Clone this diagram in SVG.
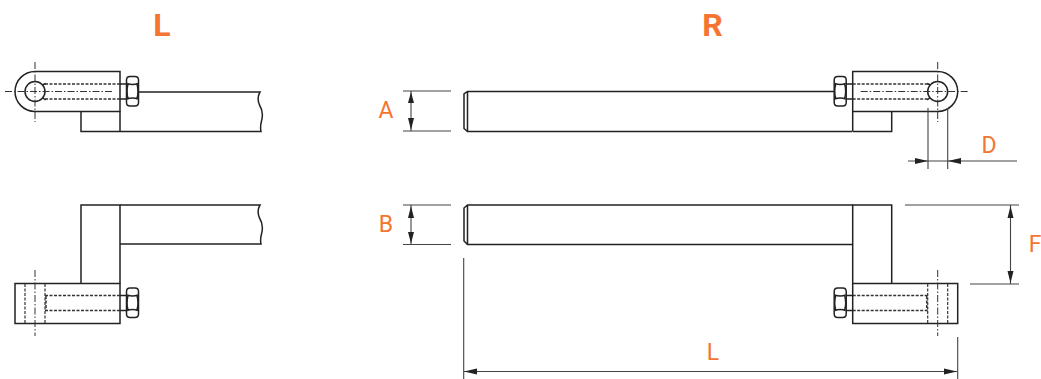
<svg xmlns="http://www.w3.org/2000/svg" width="1041" height="379" viewBox="0 0 1041 379">
<style>
.o{fill:none;stroke:#222;stroke-width:1.5}
.n{fill:#fff;stroke:#222;stroke-width:1.5}
.d{fill:none;stroke:#333;stroke-width:1.5;stroke-dasharray:3 1.5}
.e{fill:none;stroke:#333;stroke-width:1.2;stroke-dasharray:3 1.5}
.c{fill:none;stroke:#333;stroke-width:1;stroke-dasharray:7 2 1.5 2}
.v{fill:none;stroke:#444;stroke-width:1.1}
.a{fill:#222;stroke:none}
text{fill:#f47430;font-family:"Roboto","Liberation Sans",sans-serif}
.t{font-size:32px;font-weight:700;text-anchor:middle}
.l{font-size:23px;font-weight:400;text-anchor:middle}
</style>
<defs>
<g id="nut"><path class="n" d="M130 76.500H135Q138.500 76.500 138.500 80V102.500Q138.500 106 135 106H130Q126.500 106 126.500 102.500V80Q126.500 76.500 130 76.500Z"/><path class="o" d="M127 83.500Q132.500 85.500 138 83.500M127 99Q132.500 97 138 99M128 84Q126 91.500 128 98.500M137 84Q139 91.500 137 98.500"/></g>
<g id="eye">
<path class="o" d="M35 71.500H120V111.500H35A20 20 0 0 1 35 71.500Z"/>
<circle class="o" cx="35" cy="91.500" r="10"/>
<path class="d" d="M45 84H120M45 99H120"/>
<path class="o" d="M120 84H127M120 99H127"/>
<path class="o" d="M42.500 85L45.500 83.500M43 98L45.500 100" />
<path class="c" d="M5 91.500H112M35 62V122"/>
<use href="#nut"/>
<path class="o" d="M81 111.500V131.500H120M120 111.500V131.500"/>
</g>
<g id="block">
<rect class="o" x="15" y="283.500" width="105" height="40"/>
<path class="o" d="M81 283.500V205H120V283.500"/>
<path class="e" d="M25 284V323M45 284V323"/>
<path class="d" d="M45 295.500H120M45 310.500H120M46 296V310"/>
<path class="o" d="M120 295.500H127M120 310.500H127"/>
<path class="c" d="M35 270V336"/>
<use href="#nut" y="211.500"/>
</g>
</defs>

<text class="t" x="162" y="36">L</text>
<text class="t" x="712.500" y="36">R</text>

<g id="left-top">
<path class="o" d="M138 92H260Q256.500 98 259.500 105Q264 112 261.500 121Q260 127 261 131.500H120"/>
<use href="#eye"/>
</g>

<g id="left-bottom">
<path class="o" d="M120 205H260Q256.500 211 259.500 218Q264 225 261.500 234Q260 240 261 244H120"/>
<use href="#block"/>
</g>

<g id="right-top">
<path class="o" d="M834 91.500H467.500L464 94V128.500L467.500 131.500H852M467.500 91.500V131.500"/>
<use href="#eye" transform="matrix(-1 0 0 1 972.700 0)"/>
</g>

<g id="right-bottom">
<path class="o" d="M852.700 205H467.500L464 208V241L467.500 244.500H852.700M467.500 205V244.500"/>
<use href="#block" transform="matrix(-1 0 0 1 972.700 0)"/>
</g>

<g id="connectors">
<path class="v" d="M403 91H451M403 131H451M411 91V131"/>
<path class="a" d="M411 92L414 103H408ZM411 130L414 118H408Z"/>
<path class="v" d="M403 205H451M403 244.500H451M411 205V244.500"/>
<path class="a" d="M411 206L414 218H408ZM411 243.500L414 232H408Z"/>
<path class="v" d="M928 108V169M947.700 108V169M908 161H1017"/>
<path class="a" d="M928 161L915 158V164ZM947.700 161L961 158V164Z"/>
<path class="v" d="M905 205H1019M970 284H1019M1010.500 205V284"/>
<path class="a" d="M1010.500 206L1013.500 218H1007.500ZM1010.500 283L1013.500 271H1007.500Z"/>
<path class="v" d="M463.700 258V379M957.700 337V379M464 371.500H957"/>
<path class="a" d="M464 371.500L477 368.500V374.500ZM957 371.500L944 368.500V374.500Z"/>
</g>

<text class="l" x="386" y="118">A</text>
<text class="l" x="386" y="232">B</text>
<text class="l" x="989" y="153">D</text>
<text class="l" x="1035" y="252">F</text>
<text class="l" x="713" y="360">L</text>
</svg>
